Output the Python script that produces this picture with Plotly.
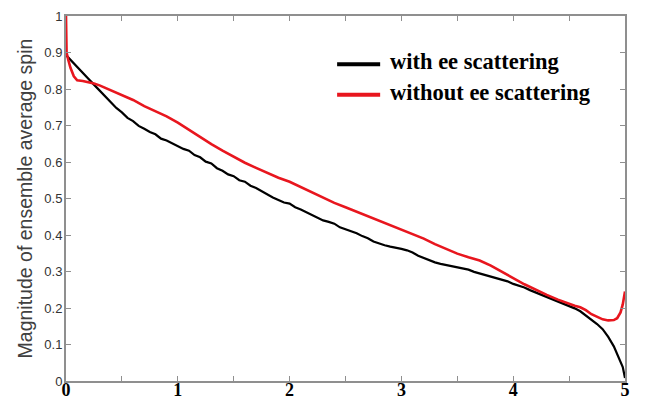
import plotly.graph_objects as go

# ---- data ----
x_black = [0.0, 0.05, 0.1, 0.15, 0.2, 0.25, 0.3, 0.35, 0.4, 0.45, 0.5, 0.55, 0.6, 0.65, 0.7, 0.75,
           0.8, 0.85, 0.9, 0.95, 1.0, 1.05, 1.1, 1.15, 1.2, 1.25, 1.3, 1.35, 1.4, 1.45, 1.5, 1.55,
           1.6, 1.65, 1.7, 1.75, 1.8, 1.85, 1.9, 1.95, 2.0, 2.05, 2.1, 2.15, 2.2, 2.25, 2.3, 2.35,
           2.4, 2.45, 2.5, 2.55, 2.6, 2.65, 2.7, 2.75, 2.8, 2.85, 2.9, 2.95, 3.0, 3.05, 3.1, 3.15,
           3.2, 3.25, 3.3, 3.35, 3.4, 3.45, 3.5, 3.55, 3.6, 3.65, 3.7, 3.75, 3.8, 3.85, 3.9, 3.95,
           4.0, 4.05, 4.1, 4.15, 4.2, 4.25, 4.3, 4.35, 4.4, 4.45, 4.5, 4.55, 4.6, 4.65, 4.7, 4.75,
           4.8, 4.85, 4.9, 4.93, 4.96, 4.98, 5.0]
y_black = [0.893, 0.876, 0.860, 0.842, 0.828, 0.812, 0.796, 0.781, 0.765, 0.748, 0.736, 0.721,
           0.712, 0.699, 0.691, 0.682, 0.676, 0.664, 0.659, 0.651, 0.645, 0.636, 0.631, 0.619,
           0.613, 0.601, 0.596, 0.583, 0.576, 0.566, 0.561, 0.550, 0.546, 0.535, 0.529, 0.520,
           0.511, 0.503, 0.496, 0.489, 0.486, 0.476, 0.470, 0.462, 0.456, 0.447, 0.440, 0.436,
           0.431, 0.421, 0.416, 0.411, 0.405, 0.397, 0.391, 0.382, 0.376, 0.372, 0.368, 0.366,
           0.362, 0.358, 0.352, 0.343, 0.337, 0.330, 0.325, 0.321, 0.318, 0.316, 0.313, 0.309,
           0.305, 0.299, 0.295, 0.291, 0.287, 0.283, 0.278, 0.273, 0.266, 0.262, 0.256, 0.249,
           0.243, 0.236, 0.230, 0.225, 0.219, 0.212, 0.205, 0.199, 0.191, 0.180, 0.169, 0.156,
           0.142, 0.121, 0.095, 0.075, 0.055, 0.038, 0.008]

x_red = [0.0, 0.005, 0.02, 0.04, 0.07, 0.1, 0.15, 0.2, 0.25, 0.3, 0.35, 0.4, 0.5, 0.6, 0.7, 0.8,
         0.9, 1.0, 1.1, 1.2, 1.3, 1.4, 1.5, 1.6, 1.7, 1.8, 1.9, 2.0, 2.1, 2.2, 2.3, 2.4, 2.5, 2.6,
         2.7, 2.8, 2.9, 3.0, 3.1, 3.2, 3.3, 3.4, 3.5, 3.6, 3.7, 3.8, 3.9, 4.0, 4.1, 4.2, 4.3, 4.4,
         4.5, 4.55, 4.6, 4.65, 4.7, 4.75, 4.8, 4.85, 4.9, 4.93, 4.96, 4.98, 5.0]
y_red = [1.0, 0.900, 0.880, 0.858, 0.835, 0.824, 0.822, 0.819, 0.815, 0.810, 0.803, 0.798, 0.784,
         0.770, 0.753, 0.740, 0.725, 0.708, 0.688, 0.668, 0.649, 0.631, 0.614, 0.598, 0.584,
         0.570, 0.557, 0.546, 0.531, 0.516, 0.502, 0.488, 0.476, 0.464, 0.452, 0.440, 0.427,
         0.414, 0.402, 0.390, 0.375, 0.361, 0.349, 0.339, 0.330, 0.316, 0.300, 0.282, 0.265,
         0.250, 0.236, 0.223, 0.211, 0.206, 0.202, 0.194, 0.183, 0.175, 0.169, 0.166, 0.167,
         0.172, 0.188, 0.210, 0.245]

series_names = ["with ee scattering", "without ee scattering"]
series_colors = ["#000000", "#e8161e"]

x_tickvals = [0, 0.5, 1, 1.5, 2, 2.5, 3, 3.5, 4, 4.5, 5]
x_ticktext = ["0", "", "1", "", "2", "", "3", "", "4", "", "5"]
y_tickvals = [0, 0.1, 0.2, 0.3, 0.4, 0.5, 0.6, 0.7, 0.8, 0.9, 1]
y_ticktext = ["0", "0.1", "0.2", "0.3", "0.4", "0.5", "0.6", "0.7", "0.8", "0.9", "1"]
y_title = "Magnitude of ensemble average spin"

fig = go.Figure()
fig.add_trace(go.Scatter(x=x_black, y=y_black, mode="lines", name=series_names[0],
                         line=dict(color=series_colors[0], width=2.2), showlegend=False))
fig.add_trace(go.Scatter(x=x_red, y=y_red, mode="lines", name=series_names[1],
                         line=dict(color=series_colors[1], width=2.6), showlegend=False))

# legend drawn manually (inside plot area)
leg_y = [0.868, 0.784]
for name, col, ly in zip(series_names, series_colors, leg_y):
    fig.add_shape(type="line", xref="paper", yref="paper", x0=0.485, x1=0.562, y0=ly, y1=ly,
                  line=dict(color=col, width=4))
    fig.add_annotation(xref="paper", yref="paper", x=0.576, y=ly + 0.006, text=name,
                       showarrow=False, xanchor="left", yanchor="middle",
                       font=dict(family="Liberation Serif", size=22.5, color="#000000", weight="bold"))

# y axis title as annotation (fixed position)
fig.add_annotation(xref="paper", yref="paper", x=-0.0735, y=0.5, text=y_title, textangle=-90,
                   showarrow=False, xanchor="center", yanchor="middle",
                   font=dict(family="Liberation Sans", size=19.5, color="#404040"))

# page body has an 8px margin, so the figure is offset by 8px in the screenshot
fig.update_layout(
    width=640, height=403,
    margin=dict(l=58, r=23, t=8, b=30, autoexpand=False),
    paper_bgcolor="white", plot_bgcolor="white",
    showlegend=False,
)
fig.update_xaxes(range=[0, 5], tickvals=x_tickvals, ticktext=x_ticktext, automargin=False,
                 ticks="inside", ticklen=5, tickcolor="#8f8f8f", tickwidth=1.2,
                 showline=True, linecolor="#8f8f8f", linewidth=2, mirror="ticks",
                 showgrid=False, zeroline=False,
                 tickfont=dict(family="Liberation Serif", size=18, color="#000000", weight="bold"),
                 ticklabelstandoff=-9)
fig.update_yaxes(range=[0, 1], tickvals=y_tickvals, ticktext=y_ticktext, automargin=False,
                 ticks="inside", ticklen=5, tickcolor="#8f8f8f", tickwidth=1.2,
                 showline=True, linecolor="#8f8f8f", linewidth=2, mirror="ticks",
                 showgrid=False, zeroline=False,
                 tickfont=dict(family="Liberation Sans", size=13, color="#333333"),
                 ticklabelstandoff=-1)

fig.write_html("out.html")
